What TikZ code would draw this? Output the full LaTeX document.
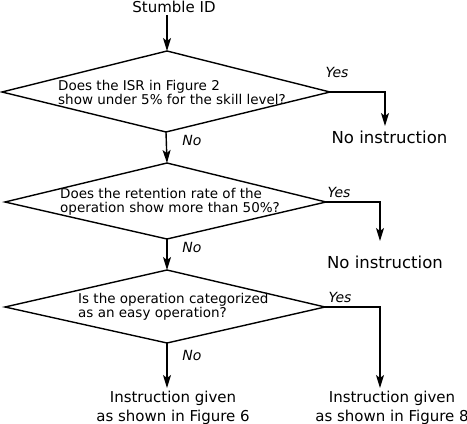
\documentclass[tikz,border=0pt]{standalone}
\usepackage{fontspec}
\setmainfont{DejaVu Sans}
\usetikzlibrary{arrows.meta}
\tikzset{
  flow/.style={line width=1.4pt,-{Stealth[length=13pt,width=8pt,inset=3pt]}},
  plain/.style={line width=1.4pt},
  qtext/.style={anchor=west,align=left,inner sep=0pt,font=\fontsize{13.5}{14}\selectfont},
  lbl/.style={inner sep=0pt,font=\fontsize{14}{15}\selectfont\itshape},
  big/.style={inner sep=0pt,font=\fontsize{16.5}{18}\selectfont},
  res/.style={inner sep=0pt,align=center,font=\fontsize{15}{19}\selectfont},
}
\begin{document}
\begin{tikzpicture}[x=1pt,y=-1pt]
\useasboundingbox (0,0) rectangle (467,424);
% title
\node[inner sep=0pt,font=\fontsize{15}{18}\selectfont] (title) at (174,7) {Stumble ID};
\coordinate (ts) at (167,15);
% diamond 1
\coordinate (d1n) at (167,51);
\coordinate (d1e) at (330,92);
\coordinate (d1s) at (166,132);
\coordinate (d1w) at (2,92);
\draw[plain] (d1n) -- (d1e) -- (d1s) -- (d1w) -- cycle;
\node[qtext] (q1) at (58,92) {Does the ISR in Figure 2\\show under 5\% for the skill level?};
% diamond 2
\coordinate (d2n) at (167,163);
\coordinate (d2e) at (326,202);
\coordinate (d2s) at (167,239);
\coordinate (d2w) at (5,202);
\draw[plain] (d2n) -- (d2e) -- (d2s) -- (d2w) -- cycle;
\node[qtext] (q2) at (60,202) {Does the retention rate of the\\operation show more than 50\%?};
% diamond 3
\coordinate (d3n) at (167,270);
\coordinate (d3e) at (325,307);
\coordinate (d3s) at (167,343);
\coordinate (d3w) at (5,307);
\draw[plain] (d3n) -- (d3e) -- (d3s) -- (d3w) -- cycle;
\node[qtext] (q3) at (78,307) {Is the operation categorized\\as an easy operation?};
% results
\node[big] (r1) at (389.5,137) {No instruction};
\node[big] (r2) at (385,262) {No instruction};
\node[res] (r3) at (173,407.5) {Instruction given\\as shown in Figure 6};
\node[res] (r4) at (392,407.5) {Instruction given\\as shown in Figure 8};
\coordinate (r1t) at (385,126);
\coordinate (r2t) at (380,241);
\coordinate (r3t) at (167,388);
\coordinate (r4t) at (380,388);
% connectors
\draw[flow] (ts) -- (d1n);
\draw[flow] (d1e) -| (r1t);
\draw[flow] (d1s) -- (d2n);
\draw[flow] (d2e) -| (r2t);
\draw[flow] (d2s) -- (d3n);
\draw[flow] (d3e) -| (r4t);
\draw[flow] (d3s) -- (r3t);
% labels
\node[lbl] (y1) at (337,72) {Yes};
\node[lbl] (n1) at (192,140) {No};
\node[lbl] (y2) at (339,192) {Yes};
\node[lbl] (n2) at (192,247) {No};
\node[lbl] (y3) at (340,297) {Yes};
\node[lbl] (n3) at (192,355) {No};
\end{tikzpicture}
\end{document}
